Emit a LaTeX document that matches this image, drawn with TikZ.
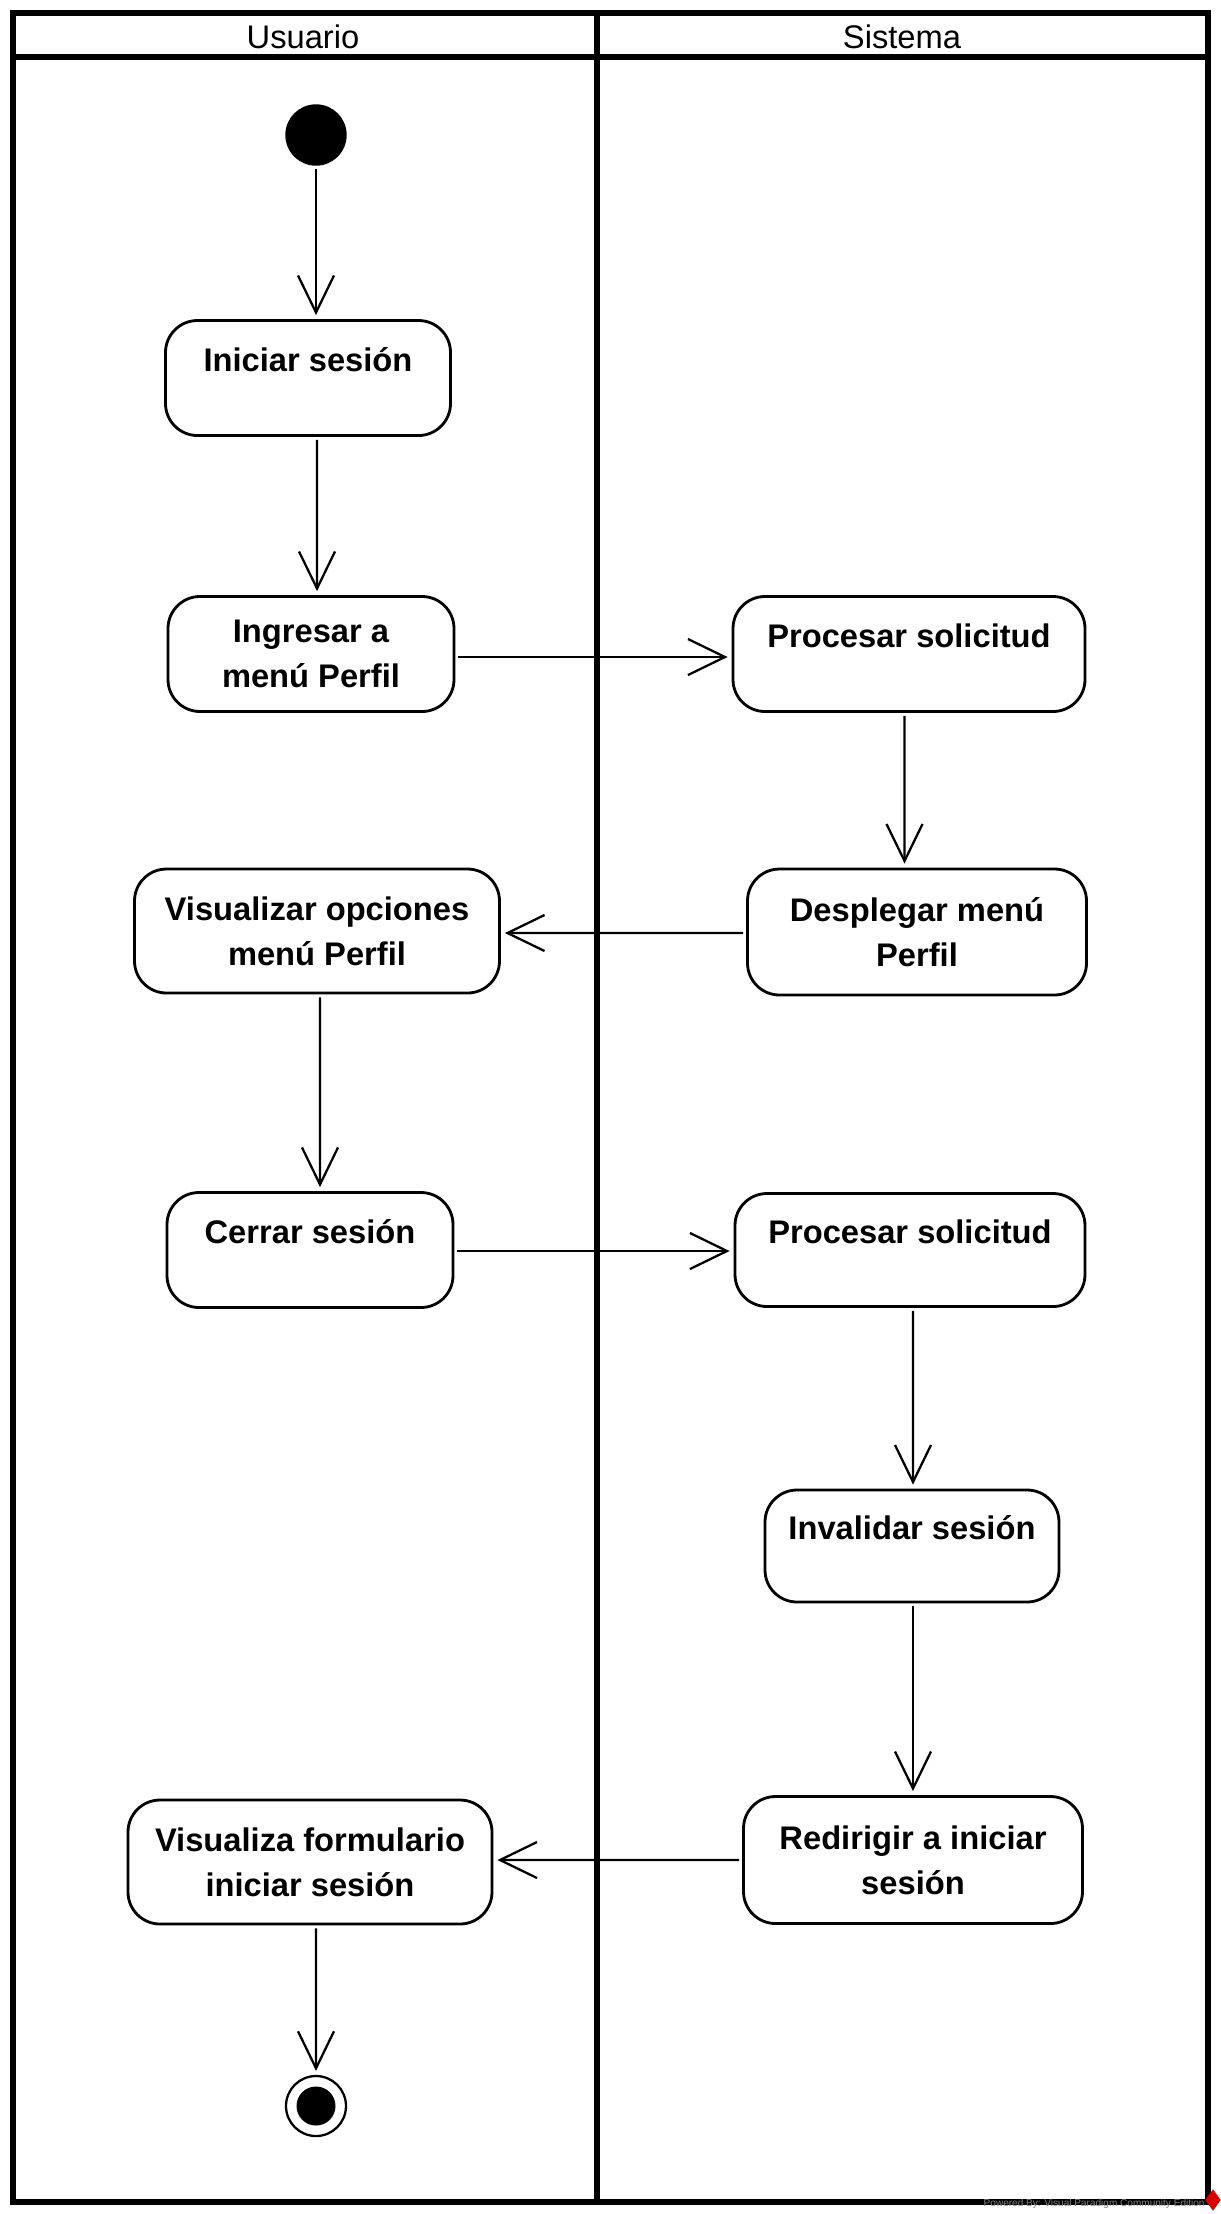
\documentclass[tikz,border=0pt]{standalone}
\usepackage{fontspec}
\setmainfont{Liberation Sans}
\usetikzlibrary{arrows.meta,shapes.geometric}
\tikzset{%
	lane/.style     = {line width=1.55pt},
	header/.style   = {font=\fontsize{9.3}{12.8}\selectfont, inner sep=0pt},
	action/.style   = {draw, rectangle, rounded corners=3.2mm, line width=0.8pt, inner sep=0pt, align=center, font=\fontsize{9.3}{12.8}\selectfont\bfseries},
	oneline/.style  = {text height=7pt, text depth=10.5pt},
	initial/.style  = {draw, circle, fill=black, minimum size=6mm, inner sep=0pt},
	final/.style    = {draw, circle, line width=0.65pt, minimum size=6mm, inner sep=0pt, path picture={\fill (path picture bounding box.center) circle (1.95mm);}},
	arrow/.style    = {line width=0.65pt, -{Straight Barb[length=3.7mm,width=3.6mm]}, shorten >=0.4mm, shorten <=0.3mm},
}
\begin{document}
\begin{tikzpicture}[x=0.1mm,y=-0.1mm]
	\useasboundingbox (0,0) rectangle (1221,2214);
	% swimlanes
	\draw[lane] (13,13) rectangle (1208,2202);
	\draw[lane] (13,57) -- (1208,57);
	\draw[lane] (597,13) -- (597,2202);
	\node[header] (usuario) at (303,37) {Usuario};
	\node[header] (sistema) at (902,37) {Sistema};

	% actions
	\node[initial] (start) at (316,135) {};
	\node[action, oneline, minimum width=28.5mm, minimum height=11.5mm] (iniciar) at (308,378) {Iniciar sesión};
	\node[action, minimum width=28.6mm, minimum height=11.5mm] (ingresar) at (311,654) {Ingresar a\\menú Perfil};
	\node[action, oneline, minimum width=35.2mm, minimum height=11.5mm] (procesarA) at (909,654) {Procesar solicitud};
	\node[action, minimum width=33.9mm, minimum height=12.6mm] (desplegar) at (917,932) {Desplegar menú\\Perfil};
	\node[action, minimum width=36.5mm, minimum height=12.4mm] (opciones) at (317,931) {Visualizar opciones\\menú Perfil};
	\node[action, oneline, minimum width=28.6mm, minimum height=11.5mm] (cerrar) at (310,1250) {Cerrar sesión};
	\node[action, oneline, minimum width=35mm, minimum height=11.3mm] (procesarB) at (910,1250) {Procesar solicitud};
	\node[action, oneline, minimum width=29.4mm, minimum height=11.2mm] (invalidar) at (912,1546) {Invalidar sesión};
	\node[action, minimum width=33.9mm, minimum height=12.7mm] (redirigir) at (913,1860) {Redirigir a iniciar\\sesión};
	\node[action, minimum width=36.4mm, minimum height=12.4mm] (formulario) at (310,1862) {Visualiza formulario\\iniciar sesión};
	\node[final] (fin) at (316,2106) {};

	% flows
	\draw[arrow] (start.south) -- (start.south |- iniciar.north);
	\draw[arrow] ([xshift=0.9mm]iniciar.south) -- ([xshift=0.6mm]ingresar.north);
	\draw[arrow] ([yshift=-0.3mm]ingresar.east) -- ([yshift=-0.3mm]procesarA.west);
	\draw[arrow] ([xshift=-0.45mm]procesarA.south) -- ([xshift=-1.25mm]desplegar.north);
	\draw[arrow] ([yshift=-0.1mm]desplegar.west) -- ([yshift=-0.2mm]opciones.east);
	\draw[arrow] ([xshift=0.3mm]opciones.south) -- ([xshift=1mm]cerrar.north);
	\draw[arrow] ([yshift=-0.1mm]cerrar.east) -- ([yshift=-0.1mm]procesarB.west);
	\draw[arrow] ([xshift=0.3mm]procesarB.south) -- ([xshift=0.1mm]invalidar.north);
	\draw[arrow] ([xshift=0.1mm]invalidar.south) -- (redirigir.north);
	\draw[arrow] (redirigir.west) -- ([yshift=0.2mm]formulario.east);
	\draw[arrow] ([xshift=0.6mm]formulario.south) -- (fin.north);

	% watermark
	\node[anchor=base west, inner sep=0pt, text=gray, font=\fontsize{2.86}{3}\selectfont] (marca) at (983,2206) {Powered By: Visual Paradigm Community Edition};
	\node[diamond, fill=red!85!black, minimum width=1.6mm, minimum height=2.2mm, inner sep=0pt] (logo) at (1213,2200) {};
\end{tikzpicture}
\end{document}
